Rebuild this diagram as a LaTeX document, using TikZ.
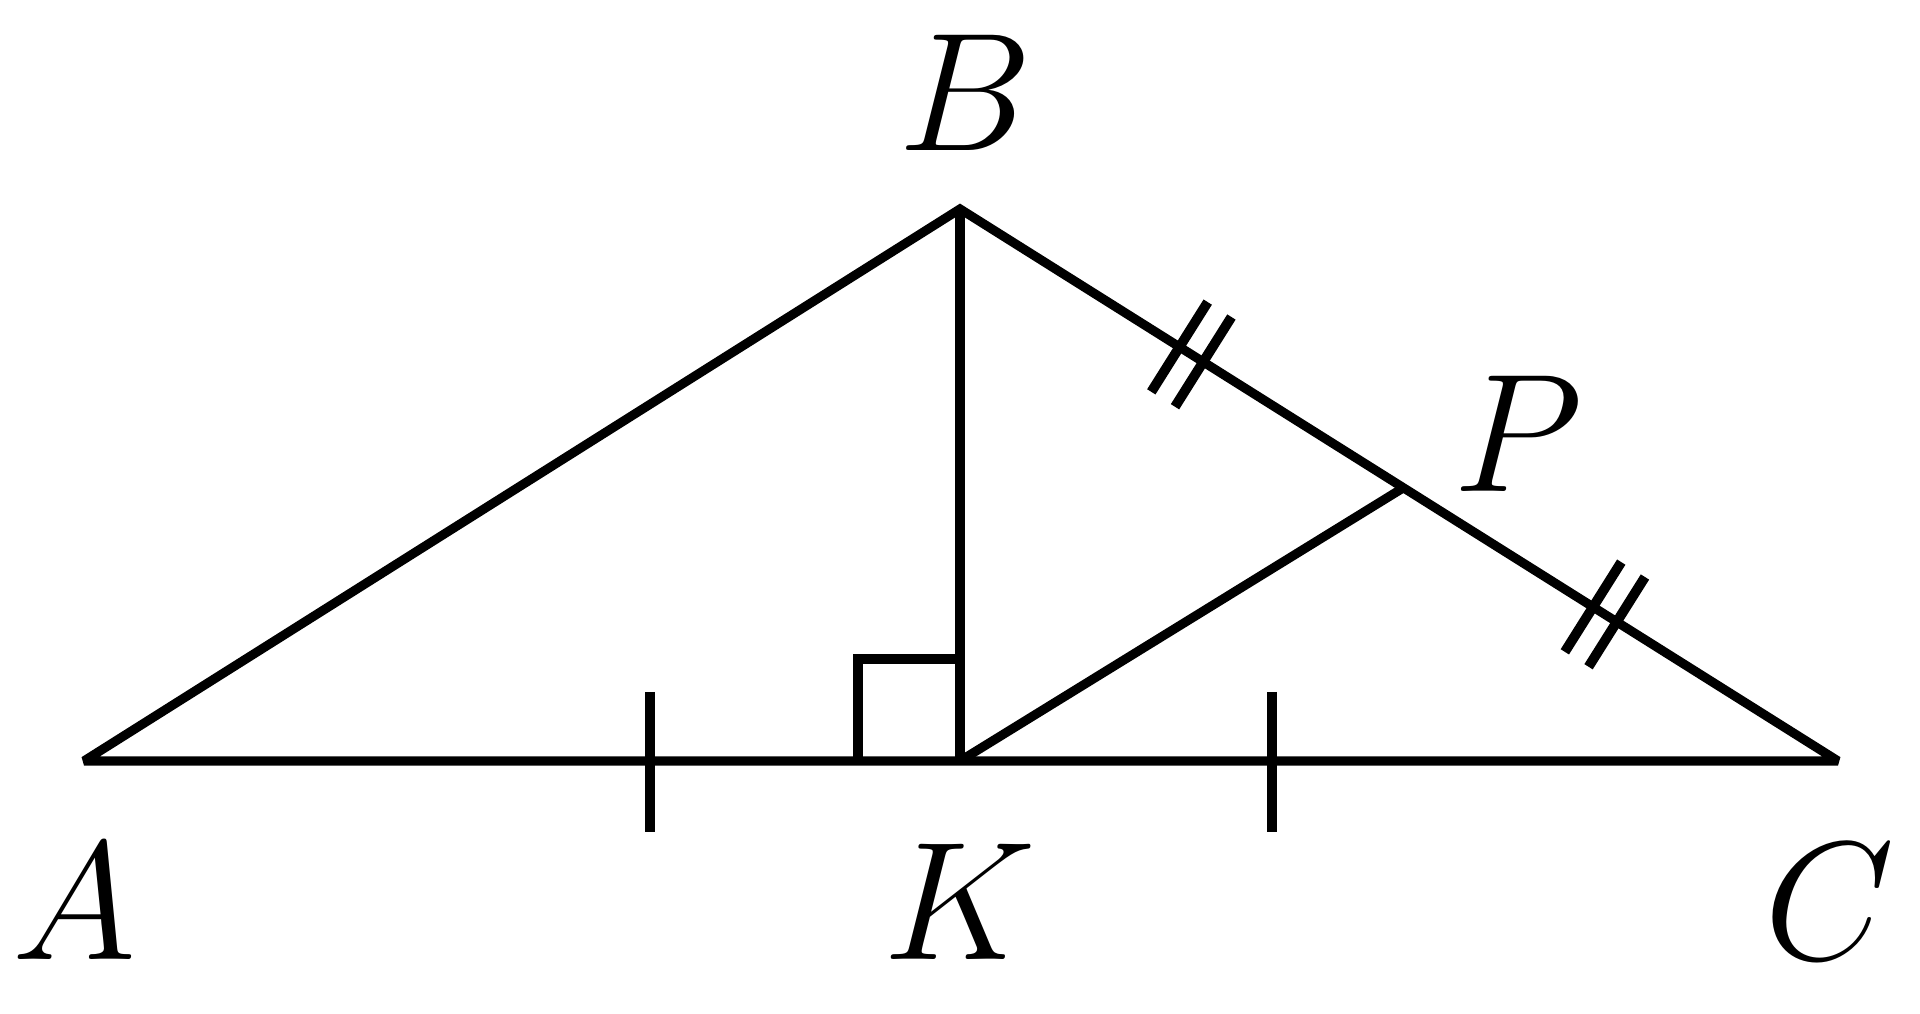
\documentclass[tikz,border=0pt]{standalone}
\usepackage{fix-cm}
\usetikzlibrary{calc}
\begin{document}
\begin{tikzpicture}
\tikzstyle{l}=[inner sep=0pt, anchor=base, font=\fontsize{48}{55}\selectfont];
\tikzstyle{s}=[line width=2.6pt];
\tikzstyle{tk}=[line width=2.8pt];
\useasboundingbox (0,0) rectangle (19.2,10.14);

\coordinate (A) at (0.84, 2.53);
\coordinate (B) at (9.60, 8.05);
\coordinate (C) at (18.38, 2.53);
\coordinate (K) at (9.60, 2.53);
\coordinate (P) at ($(B)!0.505!(C)$);

\node[l] (lA) at (0.74, 0.54) {$A$};
\node[l] (lB) at (9.65, 8.63) {$B$};
\node[l] (lC) at (18.30, 0.54) {$C$};
\node[l] (lK) at (9.60, 0.54) {$K$};
\node[l] (lP) at (15.18, 5.22) {$P$};

\draw[s, line join=miter, miter limit=2] (A) -- (B) -- (C) -- cycle;
\draw[s] (B) -- (K);
\draw[s] (K) -- (P);

% right angle at K
\coordinate (q1) at ($(K)+(-1.02,0)$);
\coordinate (q2) at ($(K)+(-1.02,1.02)$);
\coordinate (q3) at ($(K)+(0,1.02)$);
\draw[tk] (q1) -- (q2) -- (q3);

% ticks on AC
\coordinate (m1) at (6.50, 2.53);
\coordinate (m2) at (12.72, 2.53);
\draw[tk] ($(m1)+(0,0.69)$) -- ($(m1)+(0,-0.71)$);
\draw[tk] ($(m2)+(0,0.69)$) -- ($(m2)+(0,-0.71)$);

% double ticks on BC
\foreach \t in {0.25, 0.277, 0.721, 0.748} {
  \coordinate (d) at ($(B)!\t!(C)$);
  \draw[tk] ($(d)!0.53cm!90:(C)$) -- ($(d)!0.53cm!-90:(C)$);
}
\end{tikzpicture}
\end{document}
